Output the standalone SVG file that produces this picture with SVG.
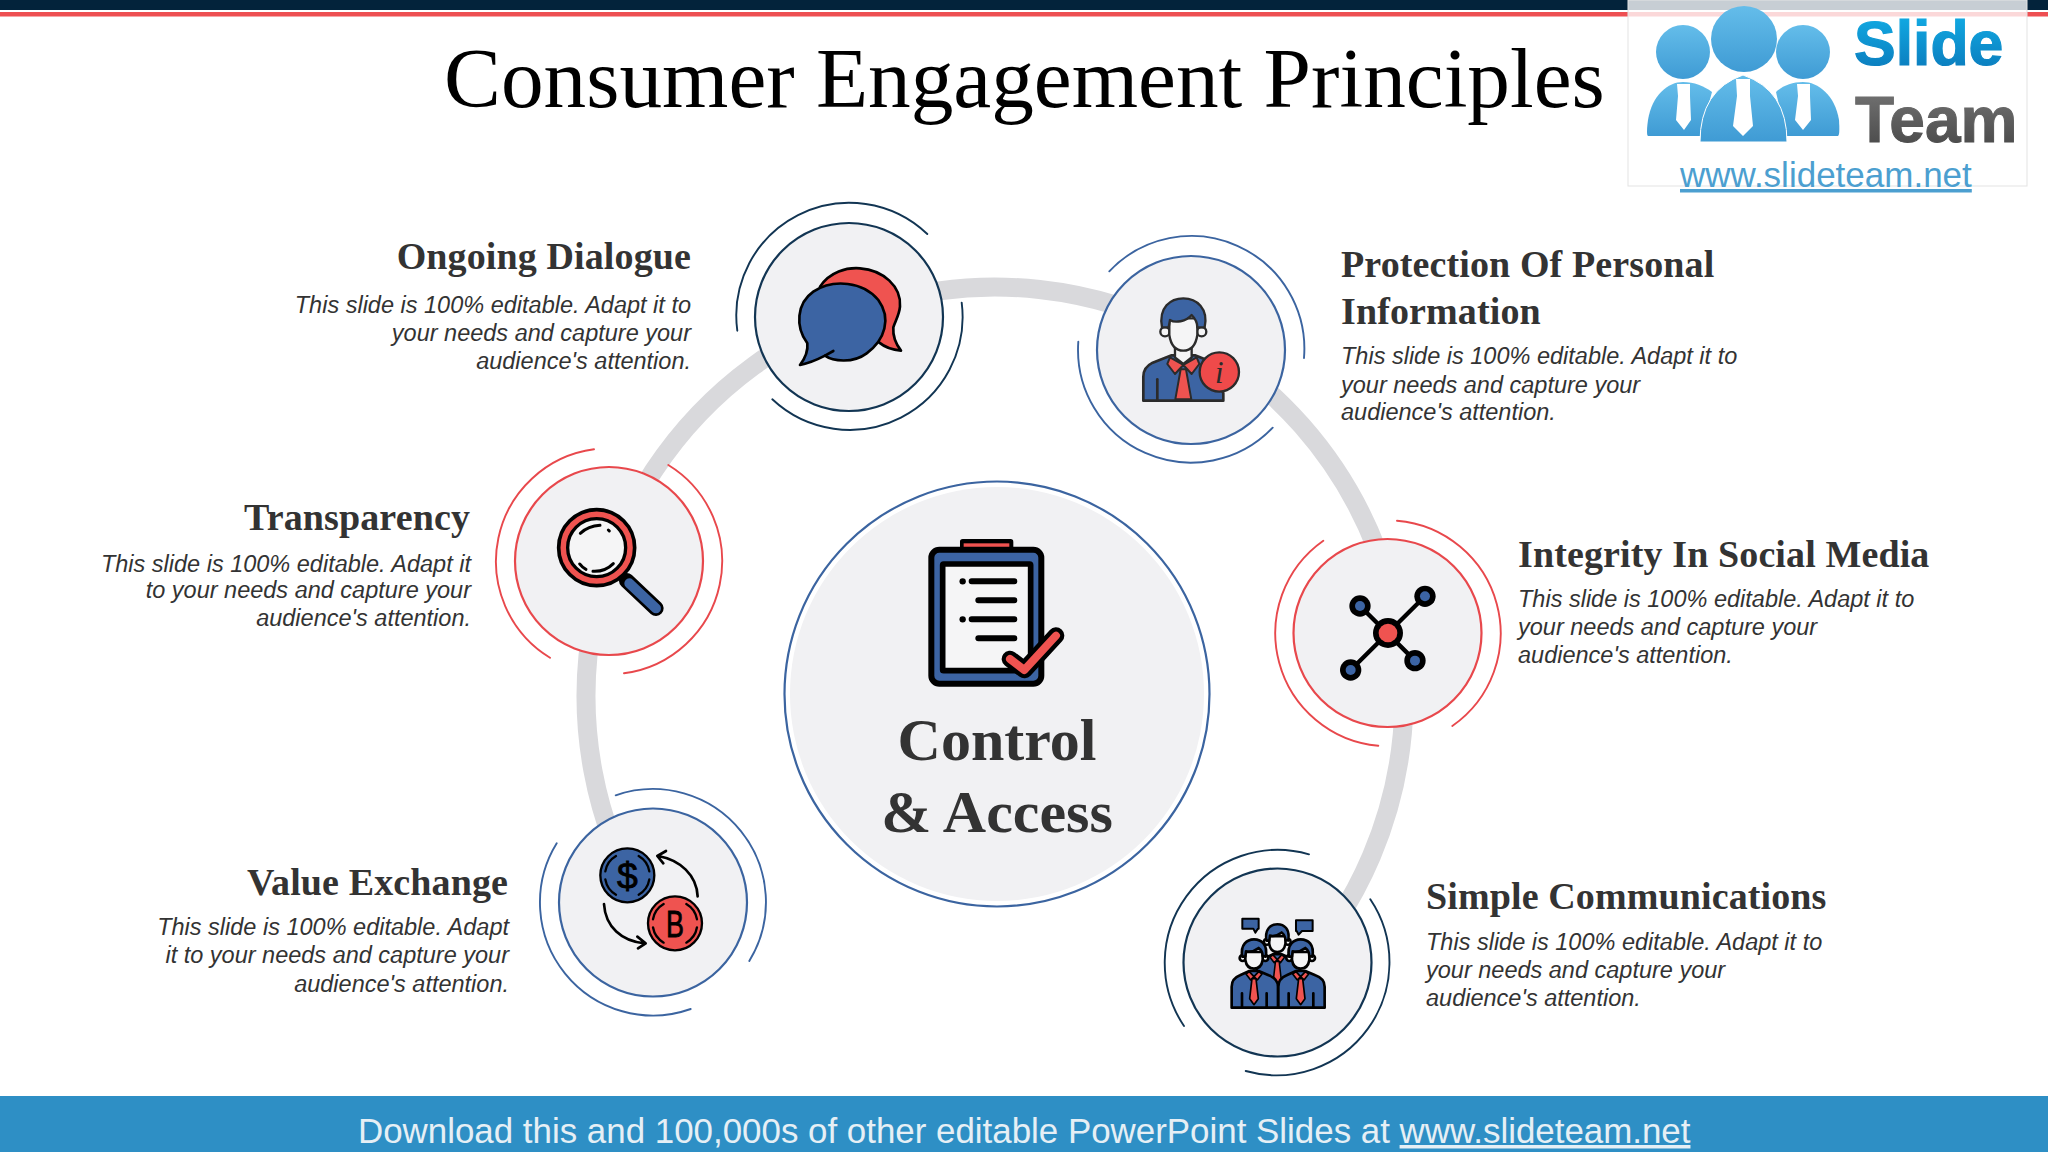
<svg xmlns="http://www.w3.org/2000/svg" xmlns:xlink="http://www.w3.org/1999/xlink" width="2048" height="1152" viewBox="0 0 2048 1152">
<style>
.h{font-family:"Liberation Serif","Times New Roman",serif;font-weight:700;font-size:38px;fill:#333;letter-spacing:.12px}
.b{font-family:"Liberation Sans",Arial,sans-serif;font-style:italic;font-size:23.500px;fill:#333}
.e{text-anchor:end}
.disc{fill:#f1f1f3;stroke-width:2.200}
.arc{fill:none;stroke-width:1.900;stroke-linecap:round}
.navy{stroke:#123553}.blue{stroke:#3b64a0}.red{stroke:#e8484c}
.k{stroke:#000;stroke-width:8;stroke-linejoin:round;stroke-linecap:round}
.kn{fill:none;stroke:#000;stroke-width:8;stroke-linejoin:round;stroke-linecap:round}
.fb{fill:#3c64a3}.fr{fill:#ef5350}.fw{fill:#f5f5f6}
</style>
<defs>
<linearGradient id="lg" x1="0" y1="0" x2="0" y2="1"><stop offset="0" stop-color="#64bdea"/><stop offset="1" stop-color="#3f9bd4"/></linearGradient>
<linearGradient id="sl" x1="0" y1="0" x2="0" y2="1"><stop offset="0" stop-color="#12b0e8"/><stop offset="1" stop-color="#0a76b8"/></linearGradient>
<linearGradient id="te" x1="0" y1="0" x2="0" y2="1"><stop offset="0" stop-color="#777"/><stop offset="1" stop-color="#444"/></linearGradient>
<g id="p">
<path class="fb k" d="M-67 155V92Q-67 68-42 58L-14 45H14L44 58Q72 68 72 92V155Z"/>
<path d="M-14 47L0 62-10 72-24 54ZM14 47L0 62 10 72 24 54Z" class="fr" stroke="#000" stroke-width="5" stroke-linejoin="round"/>
<path class="fr" stroke="#000" stroke-width="5" stroke-linejoin="round" d="M-6 68H6L13 128 0 146-13 128Z"/>
<path d="M-36 155V112M38 155V112" class="kn"/>
<circle cx="-34" cy="6" r="9" class="fw k"/><circle cx="34" cy="6" r="9" class="fw k"/>
<path class="fw k" d="M-26-12V12Q-22 38 0 38 22 38 26 12V-12Z"/>
<path class="fb k" d="M-35 2C-42-35-20-50 0-50 22-50 42-35 35 2L26 0C26-10 22-18 14-24-2-12-16-12-24-14L-26 2Z"/>
</g>
</defs>
<rect width="2048" height="1152" fill="#fff"/>
<g id="header">
<rect width="2048" height="10" fill="#03233b"/>
<rect y="12" width="2048" height="4.500" fill="#ee4f52"/>
<text x="444" y="107" font-family="'Liberation Serif','Times New Roman',serif" font-size="85.300" fill="#000">Consumer Engagement Principles</text>
</g>
<g id="logo">
<rect x="1628" y="0" width="399" height="186" fill="#fff" fill-opacity=".78" stroke="#e3e3e3" stroke-width="1"/>
<g fill="url(#lg)">
<circle cx="1683" cy="52" r="27"/><circle cx="1803" cy="52" r="27"/>
<path d="M1648 136Q1646 135 1648 120C1652 95 1668 82 1683 82 1694 82 1704 86 1712 92L1700 136Z"/>
<path d="M1838 136Q1840 135 1839 120C1835 95 1818 82 1803 82 1792 82 1782 86 1776 92L1786 136Z"/>
<path d="M1700 142Q1700 90 1743 75 1787 90 1787 142Z" stroke="#fff" stroke-width="1"/>
<circle cx="1744" cy="39" r="33"/>
</g>
<path fill="#fff" d="M1677 84H1690V96L1691 120 1684 130 1676 120 1678 96Z"/>
<path fill="#fff" d="M1736 79H1750V96L1753 126 1743 136 1733 126 1737 96Z"/>
<path fill="#fff" d="M1797 84H1810V96L1811 120 1803 130 1795 120 1798 96Z"/>
<text x="1854" y="65" font-family="'Liberation Sans',Arial,sans-serif" font-weight="700" font-size="62.500" fill="url(#sl)" stroke="url(#sl)" stroke-width="1.200">Slide</text>
<text x="1855" y="142" font-family="'Liberation Sans',Arial,sans-serif" font-weight="700" font-size="64" fill="url(#te)" stroke="url(#te)" stroke-width="1">Team</text>
<text x="1680" y="187" font-family="'Liberation Sans',Arial,sans-serif" font-size="35" fill="#4c9fd0" text-decoration="underline">www.slideteam.net</text>
</g>
<g id="connectors">
<path d="M644.400 906.600A409 409 0 1 1 1291.900 977.400" fill="none" stroke="#d9d9dc" stroke-width="19"/>
</g>
<g id="center-node">
<circle cx="997" cy="694" r="212.500" fill="none" stroke="#3b64a0" stroke-width="2.200"/>
<circle cx="997" cy="694" r="207" fill="#f1f1f3"/>
<g transform="translate(880 520) scale(.3333)">
<rect x="240" y="57" width="160" height="38" rx="8" fill="#000"/><rect x="251" y="70" width="137" height="12" class="fr"/>
<rect x="154" y="89" width="330" height="402" rx="24" class="fb" stroke="#000" stroke-width="18"/>
<rect x="188" y="132" width="264" height="320" rx="3" class="fw" stroke="#000" stroke-width="17"/>
<path d="M275 184H403M295 241H403M275 298H403M295 355H403" stroke="#000" stroke-width="18" stroke-linecap="round"/>
<circle cx="248" cy="184" r="9.500"/><circle cx="248" cy="298" r="9.500"/>
<path d="M390 417L433 450 528 347" fill="none" stroke="#000" stroke-width="50" stroke-linecap="round" stroke-linejoin="round"/>
<path d="M390 417L433 450 528 347" fill="none" stroke="#ef5350" stroke-width="24" stroke-linecap="round" stroke-linejoin="round"/>
</g>
<text x="997" y="760" text-anchor="middle" font-family="'Liberation Serif',serif" font-weight="700" font-size="60" fill="#333">Control</text>
<text x="997" y="832" text-anchor="middle" font-family="'Liberation Serif',serif" font-weight="700" font-size="60" fill="#333">&amp; Access</text>
</g>
<g id="node-ongoing-dialogue">
<circle cx="849" cy="317" r="94" class="disc navy"/>
<path class="arc navy" d="M927.300 234A113 113 0 0 0 737.300 330.700M961.700 302.700A113 113 0 0 1 772.300 399.300"/>
<g transform="translate(720 190) scale(.3333)">
<path class="fr k" d="M300 290C330 245 380 232 420 235 490 240 545 290 540 350 538 375 525 395 520 412 518 440 530 465 543 482 520 480 495 472 478 458Z"/>
<path class="fb k" d="M262 460C225 410 230 340 280 305 340 265 430 275 475 330 515 385 495 450 440 490 400 520 340 515 315 497 290 510 265 520 240 525 255 505 265 485 262 460Z"/>
<path class="kn" d="M315 497L340 483"/>
</g>
<text class="h e" x="691" y="269">Ongoing Dialogue</text>
<text class="b e" x="691" y="313">This slide is 100% editable. Adapt it to</text>
<text class="b e" x="691" y="341">your needs and capture your</text>
<text class="b e" x="691" y="369">audience's attention.</text>
</g>
<g id="node-protection">
<circle cx="1191" cy="350" r="94" class="disc blue"/>
<path class="arc blue" d="M1109.300 271.300A113 113 0 0 1 1304 358M1078.300 341.700A113 113 0 0 0 1272.700 427.700"/>
<g transform="translate(1060 220) scale(.3333)">
<path class="fb" stroke="#2b2b2b" stroke-width="8" stroke-linejoin="round" d="M250 542V470Q250 442 278 428L335 406H405L450 424 490 520V542Z"/>
<path class="fr" stroke="#2b2b2b" stroke-width="6" stroke-linejoin="round" d="M330 412L370 435 345 462 322 432ZM410 412L370 435 395 462 418 432ZM362 448H378L394 538H346Z"/>
<path d="M292 478V540" stroke="#2b2b2b" stroke-width="8" stroke-linecap="round"/>
<path class="fw" stroke="#2b2b2b" stroke-width="7" d="M345 380V412L370 432 395 412V380Z"/>
<circle cx="315" cy="335" r="14" class="fw" stroke="#2b2b2b" stroke-width="7"/><circle cx="425" cy="335" r="14" class="fw" stroke="#2b2b2b" stroke-width="7"/>
<path class="fw" stroke="#2b2b2b" stroke-width="7" d="M328 295V345Q335 392 370 392 405 392 412 345V295Z"/>
<path class="fb" stroke="#2b2b2b" stroke-width="7" stroke-linejoin="round" d="M306 322C295 262 332 235 370 235 410 235 446 265 434 322L412 322C412 306 405 295 395 285 378 305 345 310 330 300L326 322Z"/>
<circle cx="478" cy="456" r="59" fill="#ef4a4a" stroke="#2b2b2b" stroke-width="7"/>
<text x="478" y="490" text-anchor="middle" font-family="'Liberation Serif',serif" font-style="italic" font-size="92" fill="#2b2b2b">i</text>
</g>
<text class="h" x="1341" y="277">Protection Of Personal</text>
<text class="h" x="1341" y="324">Information</text>
<text class="b" x="1341" y="364">This slide is 100% editable. Adapt it to</text>
<text class="b" x="1341" y="393">your needs and capture your</text>
<text class="b" x="1341" y="420">audience's attention.</text>
</g>
<g id="node-transparency">
<circle cx="609" cy="561" r="94" class="disc red"/>
<path class="arc red" d="M594 449.300A113 113 0 0 0 550 657.700M668.300 465A113 113 0 0 1 624 673.300"/>
<g transform="translate(480 440) scale(.3333)">
<path d="M440 422L528 505" stroke="#000" stroke-width="46" stroke-linecap="round"/>
<path d="M448 430L528 505" stroke="#3c64a3" stroke-width="30" stroke-linecap="round"/>
<circle cx="350" cy="323" r="114" class="fr" stroke="#000" stroke-width="11"/>
<circle cx="350" cy="323" r="87" fill="#f5f5f6" stroke="#000" stroke-width="10"/>
<path d="M301 280Q325 258 360 256M385 270L388 273M299 372Q307 383 318 388M339 394Q375 396 400 371" fill="none" stroke="#000" stroke-width="9" stroke-linecap="round"/>
</g>
<text class="h e" x="470" y="530">Transparency</text>
<text class="b e" x="471" y="572">This slide is 100% editable. Adapt it</text>
<text class="b e" x="471" y="598">to your needs and capture your</text>
<text class="b e" x="471" y="626">audience's attention.</text>
</g>
<g id="node-integrity">
<circle cx="1387.500" cy="633" r="94" class="disc red"/>
<path class="arc red" d="M1323.300 540.700A113 113 0 0 0 1378.300 745.700M1397 520.700A113 113 0 0 1 1452.300 726"/>
<g transform="translate(1260 510) scale(.3333)">
<path d="M300 288L465 452M495 259L272 480" stroke="#000" stroke-width="13"/>
<circle cx="384" cy="369" r="45"/><circle cx="384" cy="369" r="28" class="fr"/>
<circle cx="300" cy="288" r="32"/><circle cx="300" cy="288" r="15" class="fb"/>
<circle cx="495" cy="259" r="32"/><circle cx="495" cy="259" r="15" class="fb"/>
<circle cx="272" cy="480" r="32"/><circle cx="272" cy="480" r="15" class="fb"/>
<circle cx="465" cy="452" r="32"/><circle cx="465" cy="452" r="15" class="fb"/>
</g>
<text class="h" x="1518" y="567">Integrity In Social Media</text>
<text class="b" x="1518" y="607">This slide is 100% editable. Adapt it to</text>
<text class="b" x="1518" y="635">your needs and capture your</text>
<text class="b" x="1518" y="663">audience's attention.</text>
</g>
<g id="node-value-exchange">
<circle cx="653" cy="902.500" r="94" class="disc blue"/>
<path class="arc blue" d="M615.700 795.300A113 113 0 0 1 749.300 961M556.700 843.300A113 113 0 0 0 690.700 1009"/>
<g transform="translate(530 780) scale(.3333)">
<circle cx="292" cy="286" r="81" class="fb" stroke="#000" stroke-width="7"/>
<path d="M226 298A66 66 0 0 0 258 344M326 344A66 66 0 0 0 358 298M226 274A66 66 0 0 1 258 228M326 228A66 66 0 0 1 358 274" fill="none" stroke="#000" stroke-width="7" stroke-linecap="round"/>
<text x="292" y="326" text-anchor="middle" font-family="'Liberation Sans',sans-serif" font-size="112" fill="#000" stroke="#000" stroke-width="2.500">$</text>
<circle cx="435" cy="430" r="81" class="fr" stroke="#000" stroke-width="7"/>
<path d="M369 442A66 66 0 0 0 401 488M469 488A66 66 0 0 0 501 442M369 418A66 66 0 0 1 401 372M469 372A66 66 0 0 1 501 418" fill="none" stroke="#000" stroke-width="7" stroke-linecap="round"/>
<text transform="translate(435 470) scale(.72 1)" text-anchor="middle" font-family="'Liberation Sans',sans-serif" font-size="112" fill="#000" stroke="#000" stroke-width="2.500">B</text>
<path class="kn" d="M503 349C500 285 450 240 385 228M408 213L382 228 400 250M222 372C226 440 275 485 345 490M322 470L347 490 324 505"/>
</g>
<text class="h e" x="508" y="895">Value Exchange</text>
<text class="b e" x="509" y="935">This slide is 100% editable. Adapt</text>
<text class="b e" x="509" y="963">it to your needs and capture your</text>
<text class="b e" x="509" y="992">audience's attention.</text>
</g>
<g id="node-simple-communications">
<circle cx="1277.500" cy="962.500" r="94" class="disc navy"/>
<path class="arc navy" d="M1309 854.300A113 113 0 0 0 1184 1026M1370.300 899.300A113 113 0 0 1 1245.700 1071"/>
<g transform="translate(1150 840) scale(.3333)">
<path class="fb" stroke="#000" stroke-width="6" stroke-linejoin="round" d="M277 236H326V266H324L316 278 310 266H277ZM438 241H488V273H456L446 284 440 273H438Z"/>
<use xlink:href="#p" href="#p" transform="translate(382 300) scale(.93 .95)"/>
<use xlink:href="#p" href="#p" transform="translate(312 348)"/>
<use xlink:href="#p" href="#p" transform="translate(452 348)"/>
</g>
<text class="h" x="1426" y="909">Simple Communications</text>
<text class="b" x="1426" y="950">This slide is 100% editable. Adapt it to</text>
<text class="b" x="1426" y="978">your needs and capture your</text>
<text class="b" x="1426" y="1006">audience's attention.</text>
</g>
<g id="footer">
<rect y="1096" width="2048" height="56" fill="#2e8fc5"/>
<text x="358" y="1143" font-family="'Liberation Sans',Arial,sans-serif" font-size="34.900" fill="#e6eff5">Download this and 100,000s of other editable PowerPoint Slides at <tspan text-decoration="underline">www.slideteam.net</tspan></text>
</g>
</svg>
